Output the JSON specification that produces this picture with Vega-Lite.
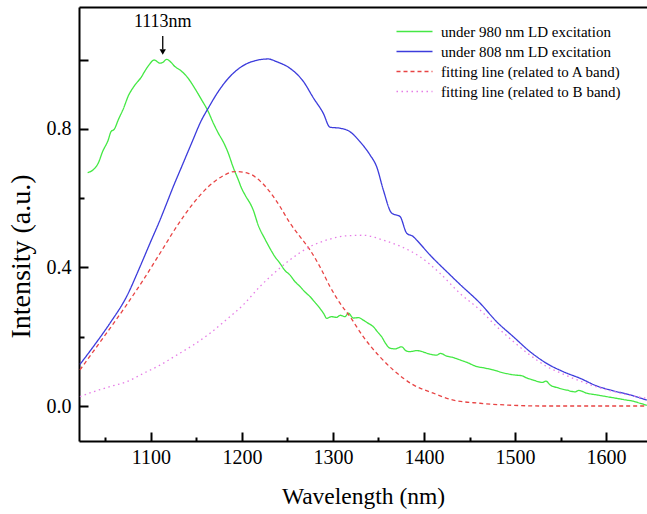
{
  "$schema": "https://vega.github.io/schema/vega-lite/v6.json",
  "width": 568,
  "height": 434,
  "autosize": {"type": "none"},
  "padding": {"left": 79, "top": 7, "right": 0, "bottom": 73},
  "background": "white",
  "config": {
    "font": "Liberation Serif",
    "view": {"stroke": null},
    "axis": {"grid": false, "domainColor": "black", "domainWidth": 2, "tickColor": "black", "tickWidth": 2, "labelColor": "black", "titleColor": "black", "labelFont": "Liberation Serif", "titleFont": "Liberation Serif", "titleFontWeight": "normal", "labelFlush": false, "labelOverlap": false},
    "legend": {"labelFont": "Liberation Serif"},
    "text": {"font": "Liberation Serif"}
  },
  "datasets": {
    "spectra": [
      {"s": "under 980 nm LD excitation", "wavelength": 1030.5, "intensity": 0.674},
      {"s": "under 980 nm LD excitation", "wavelength": 1036.6, "intensity": 0.682},
      {"s": "under 980 nm LD excitation", "wavelength": 1042.1, "intensity": 0.701},
      {"s": "under 980 nm LD excitation", "wavelength": 1047, "intensity": 0.735},
      {"s": "under 980 nm LD excitation", "wavelength": 1053.1, "intensity": 0.768},
      {"s": "under 980 nm LD excitation", "wavelength": 1056.1, "intensity": 0.792},
      {"s": "under 980 nm LD excitation", "wavelength": 1060, "intensity": 0.8},
      {"s": "under 980 nm LD excitation", "wavelength": 1064.1, "intensity": 0.826},
      {"s": "under 980 nm LD excitation", "wavelength": 1070, "intensity": 0.86},
      {"s": "under 980 nm LD excitation", "wavelength": 1075.1, "intensity": 0.895},
      {"s": "under 980 nm LD excitation", "wavelength": 1082, "intensity": 0.925},
      {"s": "under 980 nm LD excitation", "wavelength": 1089.8, "intensity": 0.951},
      {"s": "under 980 nm LD excitation", "wavelength": 1092.7, "intensity": 0.964},
      {"s": "under 980 nm LD excitation", "wavelength": 1098, "intensity": 0.985},
      {"s": "under 980 nm LD excitation", "wavelength": 1103.6, "intensity": 0.999},
      {"s": "under 980 nm LD excitation", "wavelength": 1109.9, "intensity": 0.99},
      {"s": "under 980 nm LD excitation", "wavelength": 1113, "intensity": 0.992},
      {"s": "under 980 nm LD excitation", "wavelength": 1117.3, "intensity": 1.001},
      {"s": "under 980 nm LD excitation", "wavelength": 1121, "intensity": 0.995},
      {"s": "under 980 nm LD excitation", "wavelength": 1126.4, "intensity": 0.98},
      {"s": "under 980 nm LD excitation", "wavelength": 1133, "intensity": 0.968},
      {"s": "under 980 nm LD excitation", "wavelength": 1141, "intensity": 0.946},
      {"s": "under 980 nm LD excitation", "wavelength": 1148, "intensity": 0.918},
      {"s": "under 980 nm LD excitation", "wavelength": 1155.7, "intensity": 0.884},
      {"s": "under 980 nm LD excitation", "wavelength": 1163, "intensity": 0.85},
      {"s": "under 980 nm LD excitation", "wavelength": 1168, "intensity": 0.82},
      {"s": "under 980 nm LD excitation", "wavelength": 1174, "intensity": 0.788},
      {"s": "under 980 nm LD excitation", "wavelength": 1180, "intensity": 0.76},
      {"s": "under 980 nm LD excitation", "wavelength": 1185, "intensity": 0.73},
      {"s": "under 980 nm LD excitation", "wavelength": 1190, "intensity": 0.692},
      {"s": "under 980 nm LD excitation", "wavelength": 1196, "intensity": 0.653},
      {"s": "under 980 nm LD excitation", "wavelength": 1199.7, "intensity": 0.628},
      {"s": "under 980 nm LD excitation", "wavelength": 1203.3, "intensity": 0.61},
      {"s": "under 980 nm LD excitation", "wavelength": 1212.4, "intensity": 0.566},
      {"s": "under 980 nm LD excitation", "wavelength": 1217.9, "intensity": 0.522},
      {"s": "under 980 nm LD excitation", "wavelength": 1225.3, "intensity": 0.482},
      {"s": "under 980 nm LD excitation", "wavelength": 1230.8, "intensity": 0.455},
      {"s": "under 980 nm LD excitation", "wavelength": 1236, "intensity": 0.432},
      {"s": "under 980 nm LD excitation", "wavelength": 1241.8, "intensity": 0.412},
      {"s": "under 980 nm LD excitation", "wavelength": 1247, "intensity": 0.392},
      {"s": "under 980 nm LD excitation", "wavelength": 1252.8, "intensity": 0.378},
      {"s": "under 980 nm LD excitation", "wavelength": 1258, "intensity": 0.36},
      {"s": "under 980 nm LD excitation", "wavelength": 1263.8, "intensity": 0.345},
      {"s": "under 980 nm LD excitation", "wavelength": 1269, "intensity": 0.33},
      {"s": "under 980 nm LD excitation", "wavelength": 1274.7, "intensity": 0.316},
      {"s": "under 980 nm LD excitation", "wavelength": 1280, "intensity": 0.3},
      {"s": "under 980 nm LD excitation", "wavelength": 1285.7, "intensity": 0.282},
      {"s": "under 980 nm LD excitation", "wavelength": 1290, "intensity": 0.266},
      {"s": "under 980 nm LD excitation", "wavelength": 1293.1, "intensity": 0.253},
      {"s": "under 980 nm LD excitation", "wavelength": 1298, "intensity": 0.258},
      {"s": "under 980 nm LD excitation", "wavelength": 1304.1, "intensity": 0.256},
      {"s": "under 980 nm LD excitation", "wavelength": 1308, "intensity": 0.262},
      {"s": "under 980 nm LD excitation", "wavelength": 1313.2, "intensity": 0.258},
      {"s": "under 980 nm LD excitation", "wavelength": 1317, "intensity": 0.268},
      {"s": "under 980 nm LD excitation", "wavelength": 1322.3, "intensity": 0.254},
      {"s": "under 980 nm LD excitation", "wavelength": 1328, "intensity": 0.255},
      {"s": "under 980 nm LD excitation", "wavelength": 1333.3, "intensity": 0.248},
      {"s": "under 980 nm LD excitation", "wavelength": 1338, "intensity": 0.24},
      {"s": "under 980 nm LD excitation", "wavelength": 1344.3, "intensity": 0.229},
      {"s": "under 980 nm LD excitation", "wavelength": 1349, "intensity": 0.214},
      {"s": "under 980 nm LD excitation", "wavelength": 1353.5, "intensity": 0.2},
      {"s": "under 980 nm LD excitation", "wavelength": 1358, "intensity": 0.18},
      {"s": "under 980 nm LD excitation", "wavelength": 1362.6, "intensity": 0.167},
      {"s": "under 980 nm LD excitation", "wavelength": 1368, "intensity": 0.165},
      {"s": "under 980 nm LD excitation", "wavelength": 1375.5, "intensity": 0.171},
      {"s": "under 980 nm LD excitation", "wavelength": 1380, "intensity": 0.16},
      {"s": "under 980 nm LD excitation", "wavelength": 1384.6, "intensity": 0.157},
      {"s": "under 980 nm LD excitation", "wavelength": 1392, "intensity": 0.16},
      {"s": "under 980 nm LD excitation", "wavelength": 1399.3, "intensity": 0.156},
      {"s": "under 980 nm LD excitation", "wavelength": 1406, "intensity": 0.15},
      {"s": "under 980 nm LD excitation", "wavelength": 1414, "intensity": 0.147},
      {"s": "under 980 nm LD excitation", "wavelength": 1418, "intensity": 0.152},
      {"s": "under 980 nm LD excitation", "wavelength": 1425, "intensity": 0.144},
      {"s": "under 980 nm LD excitation", "wavelength": 1432, "intensity": 0.14},
      {"s": "under 980 nm LD excitation", "wavelength": 1439.6, "intensity": 0.133},
      {"s": "under 980 nm LD excitation", "wavelength": 1448, "intensity": 0.125},
      {"s": "under 980 nm LD excitation", "wavelength": 1457.9, "intensity": 0.114},
      {"s": "under 980 nm LD excitation", "wavelength": 1466, "intensity": 0.11},
      {"s": "under 980 nm LD excitation", "wavelength": 1476.2, "intensity": 0.104},
      {"s": "under 980 nm LD excitation", "wavelength": 1487, "intensity": 0.096},
      {"s": "under 980 nm LD excitation", "wavelength": 1498.2, "intensity": 0.09},
      {"s": "under 980 nm LD excitation", "wavelength": 1508, "intensity": 0.087},
      {"s": "under 980 nm LD excitation", "wavelength": 1512, "intensity": 0.082},
      {"s": "under 980 nm LD excitation", "wavelength": 1520.1, "intensity": 0.075},
      {"s": "under 980 nm LD excitation", "wavelength": 1530, "intensity": 0.068},
      {"s": "under 980 nm LD excitation", "wavelength": 1534, "intensity": 0.072},
      {"s": "under 980 nm LD excitation", "wavelength": 1538.5, "intensity": 0.061},
      {"s": "under 980 nm LD excitation", "wavelength": 1548, "intensity": 0.052},
      {"s": "under 980 nm LD excitation", "wavelength": 1556.8, "intensity": 0.046},
      {"s": "under 980 nm LD excitation", "wavelength": 1566, "intensity": 0.041},
      {"s": "under 980 nm LD excitation", "wavelength": 1570, "intensity": 0.045},
      {"s": "under 980 nm LD excitation", "wavelength": 1578.8, "intensity": 0.037},
      {"s": "under 980 nm LD excitation", "wavelength": 1590, "intensity": 0.032},
      {"s": "under 980 nm LD excitation", "wavelength": 1600.8, "intensity": 0.027},
      {"s": "under 980 nm LD excitation", "wavelength": 1612, "intensity": 0.022},
      {"s": "under 980 nm LD excitation", "wavelength": 1622.8, "intensity": 0.017},
      {"s": "under 980 nm LD excitation", "wavelength": 1630, "intensity": 0.014},
      {"s": "under 980 nm LD excitation", "wavelength": 1637.4, "intensity": 0.008},
      {"s": "under 980 nm LD excitation", "wavelength": 1644.8, "intensity": 0.002},
      {"s": "under 808 nm LD excitation", "wavelength": 1022, "intensity": 0.12},
      {"s": "under 808 nm LD excitation", "wavelength": 1036.6, "intensity": 0.171},
      {"s": "under 808 nm LD excitation", "wavelength": 1055, "intensity": 0.239},
      {"s": "under 808 nm LD excitation", "wavelength": 1073.3, "intensity": 0.316},
      {"s": "under 808 nm LD excitation", "wavelength": 1088, "intensity": 0.402},
      {"s": "under 808 nm LD excitation", "wavelength": 1099, "intensity": 0.47},
      {"s": "under 808 nm LD excitation", "wavelength": 1110, "intensity": 0.537},
      {"s": "under 808 nm LD excitation", "wavelength": 1117.3, "intensity": 0.585},
      {"s": "under 808 nm LD excitation", "wavelength": 1124.5, "intensity": 0.633},
      {"s": "under 808 nm LD excitation", "wavelength": 1133.8, "intensity": 0.691},
      {"s": "under 808 nm LD excitation", "wavelength": 1144.7, "intensity": 0.759},
      {"s": "under 808 nm LD excitation", "wavelength": 1155.7, "intensity": 0.826},
      {"s": "under 808 nm LD excitation", "wavelength": 1163, "intensity": 0.86},
      {"s": "under 808 nm LD excitation", "wavelength": 1174, "intensity": 0.908},
      {"s": "under 808 nm LD excitation", "wavelength": 1185, "intensity": 0.946},
      {"s": "under 808 nm LD excitation", "wavelength": 1199.7, "intensity": 0.98},
      {"s": "under 808 nm LD excitation", "wavelength": 1214.3, "intensity": 0.997},
      {"s": "under 808 nm LD excitation", "wavelength": 1228.9, "intensity": 1.002},
      {"s": "under 808 nm LD excitation", "wavelength": 1238.2, "intensity": 0.994},
      {"s": "under 808 nm LD excitation", "wavelength": 1252.8, "intensity": 0.975},
      {"s": "under 808 nm LD excitation", "wavelength": 1267.5, "intensity": 0.937},
      {"s": "under 808 nm LD excitation", "wavelength": 1278.4, "intensity": 0.89},
      {"s": "under 808 nm LD excitation", "wavelength": 1289.4, "intensity": 0.845},
      {"s": "under 808 nm LD excitation", "wavelength": 1296.7, "intensity": 0.805},
      {"s": "under 808 nm LD excitation", "wavelength": 1307.7, "intensity": 0.802},
      {"s": "under 808 nm LD excitation", "wavelength": 1318.7, "intensity": 0.792},
      {"s": "under 808 nm LD excitation", "wavelength": 1329.7, "intensity": 0.763},
      {"s": "under 808 nm LD excitation", "wavelength": 1340.7, "intensity": 0.725},
      {"s": "under 808 nm LD excitation", "wavelength": 1348, "intensity": 0.691},
      {"s": "under 808 nm LD excitation", "wavelength": 1355.3, "intensity": 0.624},
      {"s": "under 808 nm LD excitation", "wavelength": 1364.5, "intensity": 0.557},
      {"s": "under 808 nm LD excitation", "wavelength": 1373.7, "intensity": 0.547},
      {"s": "under 808 nm LD excitation", "wavelength": 1381, "intensity": 0.499},
      {"s": "under 808 nm LD excitation", "wavelength": 1388.3, "intensity": 0.489},
      {"s": "under 808 nm LD excitation", "wavelength": 1392, "intensity": 0.479},
      {"s": "under 808 nm LD excitation", "wavelength": 1406.6, "intensity": 0.436},
      {"s": "under 808 nm LD excitation", "wavelength": 1425, "intensity": 0.388},
      {"s": "under 808 nm LD excitation", "wavelength": 1439.6, "intensity": 0.351},
      {"s": "under 808 nm LD excitation", "wavelength": 1461.6, "intensity": 0.297},
      {"s": "under 808 nm LD excitation", "wavelength": 1480, "intensity": 0.243},
      {"s": "under 808 nm LD excitation", "wavelength": 1498.2, "intensity": 0.2},
      {"s": "under 808 nm LD excitation", "wavelength": 1516.5, "intensity": 0.157},
      {"s": "under 808 nm LD excitation", "wavelength": 1534.8, "intensity": 0.123},
      {"s": "under 808 nm LD excitation", "wavelength": 1553.1, "intensity": 0.099},
      {"s": "under 808 nm LD excitation", "wavelength": 1571.5, "intensity": 0.08},
      {"s": "under 808 nm LD excitation", "wavelength": 1589.8, "intensity": 0.058},
      {"s": "under 808 nm LD excitation", "wavelength": 1608.1, "intensity": 0.044},
      {"s": "under 808 nm LD excitation", "wavelength": 1626.4, "intensity": 0.032},
      {"s": "under 808 nm LD excitation", "wavelength": 1644.8, "intensity": 0.017},
      {"s": "fitting line (related to A band)", "wavelength": 1022, "intensity": 0.104},
      {"s": "fitting line (related to A band)", "wavelength": 1036.6, "intensity": 0.157},
      {"s": "fitting line (related to A band)", "wavelength": 1055, "intensity": 0.224},
      {"s": "fitting line (related to A band)", "wavelength": 1073.3, "intensity": 0.292},
      {"s": "fitting line (related to A band)", "wavelength": 1091.6, "intensity": 0.364},
      {"s": "fitting line (related to A band)", "wavelength": 1110, "intensity": 0.441},
      {"s": "fitting line (related to A band)", "wavelength": 1128.3, "intensity": 0.518},
      {"s": "fitting line (related to A band)", "wavelength": 1146.5, "intensity": 0.585},
      {"s": "fitting line (related to A band)", "wavelength": 1163, "intensity": 0.633},
      {"s": "fitting line (related to A band)", "wavelength": 1177.6, "intensity": 0.662},
      {"s": "fitting line (related to A band)", "wavelength": 1192.3, "intensity": 0.677},
      {"s": "fitting line (related to A band)", "wavelength": 1206.9, "intensity": 0.672},
      {"s": "fitting line (related to A band)", "wavelength": 1219.8, "intensity": 0.65},
      {"s": "fitting line (related to A band)", "wavelength": 1230.8, "intensity": 0.618},
      {"s": "fitting line (related to A band)", "wavelength": 1241.8, "intensity": 0.576},
      {"s": "fitting line (related to A band)", "wavelength": 1252.8, "intensity": 0.528},
      {"s": "fitting line (related to A band)", "wavelength": 1263.8, "intensity": 0.489},
      {"s": "fitting line (related to A band)", "wavelength": 1274.7, "intensity": 0.451},
      {"s": "fitting line (related to A band)", "wavelength": 1285.7, "intensity": 0.402},
      {"s": "fitting line (related to A band)", "wavelength": 1296.7, "intensity": 0.345},
      {"s": "fitting line (related to A band)", "wavelength": 1307.7, "intensity": 0.297},
      {"s": "fitting line (related to A band)", "wavelength": 1318.7, "intensity": 0.258},
      {"s": "fitting line (related to A band)", "wavelength": 1333.3, "intensity": 0.2},
      {"s": "fitting line (related to A band)", "wavelength": 1351.6, "intensity": 0.142},
      {"s": "fitting line (related to A band)", "wavelength": 1366.3, "intensity": 0.104},
      {"s": "fitting line (related to A band)", "wavelength": 1388.3, "intensity": 0.061},
      {"s": "fitting line (related to A band)", "wavelength": 1410.3, "intensity": 0.037},
      {"s": "fitting line (related to A band)", "wavelength": 1432.3, "intensity": 0.017},
      {"s": "fitting line (related to A band)", "wavelength": 1461.6, "intensity": 0.008},
      {"s": "fitting line (related to A band)", "wavelength": 1498.2, "intensity": 0.002},
      {"s": "fitting line (related to A band)", "wavelength": 1534.8, "intensity": 0.0},
      {"s": "fitting line (related to A band)", "wavelength": 1645, "intensity": 0.0},
      {"s": "fitting line (related to B band)", "wavelength": 1022, "intensity": 0.027},
      {"s": "fitting line (related to B band)", "wavelength": 1036.6, "intensity": 0.041},
      {"s": "fitting line (related to B band)", "wavelength": 1055, "intensity": 0.056},
      {"s": "fitting line (related to B band)", "wavelength": 1073.3, "intensity": 0.07},
      {"s": "fitting line (related to B band)", "wavelength": 1091.6, "intensity": 0.094},
      {"s": "fitting line (related to B band)", "wavelength": 1110, "intensity": 0.118},
      {"s": "fitting line (related to B band)", "wavelength": 1128.3, "intensity": 0.147},
      {"s": "fitting line (related to B band)", "wavelength": 1146.5, "intensity": 0.176},
      {"s": "fitting line (related to B band)", "wavelength": 1164.9, "intensity": 0.21},
      {"s": "fitting line (related to B band)", "wavelength": 1183.2, "intensity": 0.25},
      {"s": "fitting line (related to B band)", "wavelength": 1201.4, "intensity": 0.292},
      {"s": "fitting line (related to B band)", "wavelength": 1219.8, "intensity": 0.345},
      {"s": "fitting line (related to B band)", "wavelength": 1230.8, "intensity": 0.373},
      {"s": "fitting line (related to B band)", "wavelength": 1252.8, "intensity": 0.422},
      {"s": "fitting line (related to B band)", "wavelength": 1274.7, "intensity": 0.46},
      {"s": "fitting line (related to B band)", "wavelength": 1296.7, "intensity": 0.482},
      {"s": "fitting line (related to B band)", "wavelength": 1313.2, "intensity": 0.491},
      {"s": "fitting line (related to B band)", "wavelength": 1333.3, "intensity": 0.493},
      {"s": "fitting line (related to B band)", "wavelength": 1355.3, "intensity": 0.479},
      {"s": "fitting line (related to B band)", "wavelength": 1375, "intensity": 0.46},
      {"s": "fitting line (related to B band)", "wavelength": 1395.6, "intensity": 0.431},
      {"s": "fitting line (related to B band)", "wavelength": 1417.6, "intensity": 0.383},
      {"s": "fitting line (related to B band)", "wavelength": 1439.6, "intensity": 0.325},
      {"s": "fitting line (related to B band)", "wavelength": 1461.6, "intensity": 0.277},
      {"s": "fitting line (related to B band)", "wavelength": 1480, "intensity": 0.229},
      {"s": "fitting line (related to B band)", "wavelength": 1498.2, "intensity": 0.186},
      {"s": "fitting line (related to B band)", "wavelength": 1516.5, "intensity": 0.147},
      {"s": "fitting line (related to B band)", "wavelength": 1534.8, "intensity": 0.114},
      {"s": "fitting line (related to B band)", "wavelength": 1553, "intensity": 0.092},
      {"s": "fitting line (related to B band)", "wavelength": 1571.5, "intensity": 0.072},
      {"s": "fitting line (related to B band)", "wavelength": 1590, "intensity": 0.055},
      {"s": "fitting line (related to B band)", "wavelength": 1608.1, "intensity": 0.042},
      {"s": "fitting line (related to B band)", "wavelength": 1626.4, "intensity": 0.031},
      {"s": "fitting line (related to B band)", "wavelength": 1644.8, "intensity": 0.022}
    ],
    "peak": [
      {"label": "1113nm", "wavelength": 1113, "intensity": 1.11, "tip": 1.03, "tail": 1.068, "head": 1.022}
    ]
  },
  "resolve": {"axis": {"x": "independent", "y": "independent"}},
  "layer": [
    {
      "data": {"name": "spectra"},
      "mark": {"type": "line", "strokeWidth": 1.3, "clip": true, "interpolate": "monotone"},
      "encoding": {
        "x": {
          "field": "wavelength", "type": "quantitative",
          "scale": {"domain": [1021, 1645], "nice": false, "zero": false},
          "axis": {
            "orient": "bottom",
            "title": "Wavelength (nm)",
            "values": [1100, 1200, 1300, 1400, 1500, 1600],
            "format": "d",
            "tickSize": -9,
            "labelFont": "Liberation Serif",
            "labelFontSize": 20,
            "labelPadding": 15,
            "titleFont": "Liberation Serif",
            "titleFontSize": 23.5,
            "titlePadding": 17
          }
        },
        "y": {
          "field": "intensity", "type": "quantitative",
          "scale": {"domain": [-0.101, 1.152], "nice": false, "zero": false},
          "axis": {
            "title": "Intensity (a.u.)",
            "values": [0, 0.4, 0.8, 1.0],
            "labelExpr": "datum.value == 1 ? '' : format(datum.value, '.1f')",
            "tickSize": -9,
            "labelFont": "Liberation Serif",
            "labelFontSize": 20,
            "labelPadding": 17,
            "titleFont": "Liberation Serif",
            "titleFontSize": 28,
            "titleBaseline": "middle",
            "titleX": -58,
            "titleY": 249
          }
        },
        "color": {
          "field": "s", "type": "nominal", "title": null,
          "scale": {
            "domain": ["under 980 nm LD excitation", "under 808 nm LD excitation", "fitting line (related to A band)", "fitting line (related to B band)"],
            "range": ["#44e844", "#3c3cdc", "#e84444", "#e67ce6"]
          },
          "legend": {
            "orient": "none", "legendX": 316, "legendY": 17, "padding": 0,
            "symbolType": "M-1,0H5", "symbolSize": 144, "symbolStrokeWidth": 1.3,
            "labelFont": "Liberation Serif", "labelFontSize": 15, "labelColor": "black",
            "labelOffset": 31, "rowPadding": 4, "labelLimit": 400
          }
        },
        "strokeDash": {
          "field": "s", "type": "nominal", "title": null,
          "scale": {
            "domain": ["under 980 nm LD excitation", "under 808 nm LD excitation", "fitting line (related to A band)", "fitting line (related to B band)"],
            "range": [[1, 0], [1, 0], [4, 3], [1.5, 3.5]]
          },
          "legend": {
            "orient": "none", "legendX": 316, "legendY": 17, "padding": 0,
            "symbolType": "M-1,0H5", "symbolSize": 144, "symbolStrokeWidth": 1.3,
            "labelFont": "Liberation Serif", "labelFontSize": 15, "labelColor": "black",
            "labelOffset": 31, "rowPadding": 4, "labelLimit": 400
          }
        }
      }
    },
    {
      "data": {"name": "peak"},
      "mark": {"type": "text", "font": "Liberation Serif", "fontSize": 18, "color": "black", "baseline": "middle", "align": "center"},
      "encoding": {
        "x": {"field": "wavelength", "type": "quantitative", "axis": {"orient": "top", "ticks": false, "labels": false, "title": null, "domainWidth": 2}},
        "y": {"field": "intensity", "type": "quantitative", "axis": null},
        "text": {"field": "label"}
      }
    },
    {
      "data": {"name": "peak"},
      "mark": {"type": "rule", "color": "black", "strokeWidth": 1.3},
      "encoding": {
        "x": {"field": "wavelength", "type": "quantitative",
              "axis": {"orient": "bottom", "values": [1050, 1150, 1250, 1350, 1450, 1550], "tickSize": -4, "labels": false, "domain": false, "title": null}},
        "y": {"field": "tail", "type": "quantitative",
              "axis": {"orient": "left", "values": [0.2, 0.6], "tickSize": -5, "labels": false, "domain": false, "title": null}},
        "y2": {"field": "tip"}
      }
    },
    {
      "data": {"name": "peak"},
      "mark": {"type": "point", "shape": "triangle-down", "filled": true, "color": "black", "size": 40, "opacity": 1},
      "encoding": {
        "x": {"field": "wavelength", "type": "quantitative", "axis": null},
        "y": {"field": "head", "type": "quantitative", "axis": null}
      }
    }
  ]
}
